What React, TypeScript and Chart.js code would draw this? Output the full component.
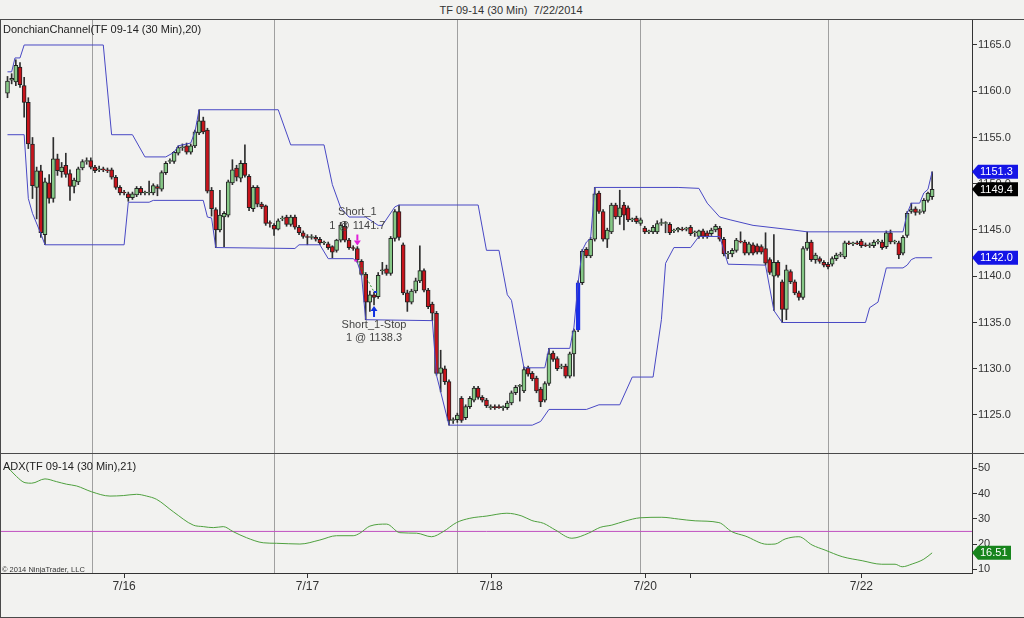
import React, { useEffect, useRef } from 'react';
import { Chart, registerables } from 'chart.js';

Chart.register(...registerables);

// ---------------- DATA ----------------
const opens = [
  1159.8, 1161.2, 1161.0, 1162.6, 1160.6, 1158.8, 1154.3, 1149.6, 1151.4, 1144.5,
  1150.1, 1148.4, 1152.7, 1151.3, 1152.0, 1151.1, 1149.7, 1150.2, 1151.7, 1152.4,
  1152.5, 1151.8, 1151.5, 1151.6, 1151.5, 1151.5, 1150.7, 1149.6, 1149.1, 1148.9,
  1148.5, 1148.8, 1149.5, 1149.0, 1149.0, 1149.0, 1149.7, 1149.4, 1151.2, 1152.4,
  1152.4, 1153.3, 1153.9, 1154.1, 1153.4, 1154.1, 1155.5, 1156.8, 1155.8, 1149.3,
  1147.2, 1145.0, 1146.4, 1146.6, 1150.1, 1151.7, 1150.6, 1152.2, 1150.8, 1147.3,
  1149.6, 1147.8, 1147.6, 1145.8, 1145.5, 1145.1, 1146.2, 1146.4, 1145.6, 1146.4,
  1145.3, 1144.7, 1144.3, 1144.2, 1144.2, 1144.0, 1143.6, 1143.5, 1143.2, 1142.8,
  1143.9, 1145.4, 1143.9, 1143.1, 1143.0, 1141.6, 1140.2, 1137.2, 1138.0, 1137.8,
  1140.6, 1140.8, 1140.3, 1144.1, 1147.0, 1143.4, 1138.2, 1137.2, 1138.4, 1139.5,
  1140.6, 1138.5, 1137.0, 1136.0, 1129.5, 1130.0, 1128.6, 1124.4, 1124.5, 1126.8,
  1124.7, 1125.9, 1126.6, 1127.9, 1126.9, 1126.6, 1125.8, 1125.9, 1125.9, 1125.8,
  1125.8, 1126.3, 1127.4, 1128.1, 1127.6, 1130.1, 1129.5, 1129.0, 1127.8, 1126.6,
  1128.4, 1131.7, 1131.1, 1130.2, 1130.3, 1129.2, 1131.6, 1134.2, 1139.3, 1142.9,
  1142.2, 1144.0, 1149.0, 1147.0, 1144.0, 1144.8, 1147.7, 1146.4, 1147.7, 1147.4,
  1146.1, 1146.3, 1145.7, 1145.2, 1144.8, 1144.8, 1144.8, 1145.7, 1145.7, 1145.6,
  1144.9, 1145.0, 1145.1, 1145.1, 1145.3, 1144.7, 1144.3, 1144.9, 1144.7, 1144.6,
  1145.0, 1145.2, 1144.0, 1142.4, 1142.4, 1142.8, 1143.8, 1143.7, 1142.5, 1143.4,
  1143.3, 1143.2, 1143.0, 1141.8, 1140.0, 1141.5, 1139.4, 1136.4, 1140.5, 1139.4,
  1138.2, 1137.7, 1143.0, 1143.7, 1141.8, 1141.9, 1141.5, 1141.3, 1141.3, 1141.9,
  1142.3, 1142.1, 1143.6, 1143.5, 1143.6, 1143.8, 1143.4, 1143.3, 1143.3, 1143.7,
  1143.7, 1143.2, 1144.7, 1143.7, 1143.6, 1142.5, 1144.4, 1147.0, 1147.3, 1146.9,
  1147.0, 1148.2, 1148.6,
];

const highs = [
  1161.6, 1161.9, 1163.4, 1163.1, 1161.5, 1159.3, 1155.0, 1151.8, 1152.0, 1150.6,
  1151.0, 1155.0, 1153.2, 1152.3, 1153.3, 1151.5, 1150.6, 1151.8, 1152.6, 1152.8,
  1152.8, 1152.0, 1151.9, 1151.8, 1151.7, 1151.7, 1150.9, 1149.8, 1149.3, 1149.1,
  1149.1, 1149.7, 1149.7, 1149.2, 1150.3, 1150.0, 1149.9, 1151.4, 1152.4, 1152.7,
  1153.5, 1154.1, 1154.3, 1154.4, 1154.3, 1155.8, 1158.0, 1157.2, 1156.0, 1149.6,
  1147.4, 1149.3, 1147.0, 1150.4, 1152.6, 1152.0, 1152.5, 1154.2, 1151.0, 1149.8,
  1149.8, 1148.0, 1147.7, 1146.0, 1145.7, 1146.2, 1146.5, 1146.6, 1146.6, 1146.6,
  1145.5, 1144.9, 1144.5, 1144.5, 1144.4, 1144.2, 1143.8, 1143.7, 1143.3, 1144.0,
  1145.8, 1145.9, 1144.1, 1143.3, 1143.2, 1141.8, 1140.4, 1138.4, 1138.3, 1140.4,
  1141.5, 1141.2, 1144.3, 1147.2, 1147.7, 1143.6, 1138.5, 1138.6, 1139.8, 1143.3,
  1140.8, 1138.7, 1137.2, 1136.2, 1132.0, 1130.3, 1128.8, 1124.7, 1125.2, 1127.0,
  1126.1, 1127.0, 1128.1, 1128.1, 1127.1, 1126.8, 1126.1, 1126.1, 1126.1, 1126.0,
  1126.5, 1127.6, 1128.2, 1128.3, 1130.2, 1130.3, 1129.7, 1129.2, 1128.0, 1128.6,
  1132.2, 1131.9, 1131.3, 1130.5, 1130.5, 1131.8, 1134.3, 1139.5, 1142.9, 1143.1,
  1144.2, 1149.6, 1149.2, 1147.2, 1145.2, 1147.9, 1147.9, 1149.3, 1148.0, 1147.6,
  1146.3, 1146.5, 1146.3, 1145.4, 1145.0, 1145.5, 1146.0, 1146.2, 1145.9, 1145.8,
  1145.1, 1145.3, 1145.3, 1145.3, 1145.5, 1144.9, 1145.0, 1145.1, 1144.9, 1145.2,
  1145.6, 1145.4, 1144.2, 1142.7, 1143.0, 1144.1, 1144.8, 1143.9, 1143.7, 1143.6,
  1143.5, 1143.4, 1144.7, 1142.0, 1144.5, 1141.7, 1139.6, 1141.2, 1140.7, 1139.6,
  1138.4, 1143.2, 1144.8, 1143.9, 1142.5, 1142.1, 1141.7, 1141.5, 1142.1, 1142.5,
  1142.6, 1143.8, 1143.8, 1143.7, 1143.8, 1144.0, 1143.6, 1143.6, 1143.9, 1144.0,
  1143.9, 1144.9, 1145.0, 1143.9, 1143.8, 1144.4, 1147.0, 1147.9, 1147.5, 1147.2,
  1148.4, 1149.1, 1151.3,
];

const lows = [
  1159.3, 1160.8, 1160.6, 1160.4, 1157.2, 1153.8, 1148.4, 1146.2, 1144.2, 1143.4,
  1147.9, 1148.0, 1150.9, 1150.7, 1150.7, 1148.2, 1149.0, 1149.9, 1151.5, 1152.1,
  1151.6, 1151.2, 1151.3, 1151.3, 1151.2, 1150.5, 1149.4, 1148.8, 1148.8, 1148.1,
  1148.3, 1148.6, 1148.8, 1148.8, 1148.8, 1148.8, 1148.7, 1149.2, 1151.0, 1152.2,
  1152.2, 1153.1, 1153.6, 1153.2, 1153.2, 1153.9, 1155.3, 1155.4, 1149.0, 1146.5,
  1143.1, 1144.8, 1143.2, 1146.4, 1149.9, 1150.3, 1150.2, 1150.7, 1147.1, 1147.0,
  1147.5, 1147.3, 1145.5, 1145.3, 1144.4, 1145.0, 1146.0, 1145.4, 1145.4, 1145.1,
  1144.5, 1144.1, 1143.4, 1144.0, 1143.8, 1143.4, 1143.4, 1142.9, 1142.0, 1142.6,
  1143.7, 1143.7, 1142.9, 1142.8, 1141.5, 1140.1, 1135.3, 1136.2, 1136.9, 1137.6,
  1140.2, 1140.1, 1140.1, 1143.8, 1143.9, 1138.0, 1136.2, 1137.0, 1138.2, 1139.3,
  1138.3, 1136.5, 1135.2, 1129.3, 1127.5, 1128.3, 1123.9, 1124.1, 1124.2, 1124.2,
  1124.5, 1125.7, 1126.4, 1126.7, 1126.4, 1125.8, 1125.6, 1125.6, 1125.7, 1125.5,
  1125.6, 1126.1, 1127.2, 1126.5, 1127.4, 1129.2, 1128.7, 1127.4, 1125.9, 1126.4,
  1128.2, 1130.8, 1129.8, 1130.0, 1129.0, 1129.0, 1129.2, 1134.0, 1139.1, 1142.0,
  1142.0, 1143.8, 1146.8, 1143.8, 1143.1, 1144.6, 1146.2, 1145.6, 1145.0, 1145.9,
  1145.9, 1145.7, 1145.5, 1144.6, 1144.6, 1144.6, 1144.6, 1145.5, 1144.7, 1144.5,
  1144.7, 1144.8, 1144.9, 1144.9, 1144.4, 1144.3, 1144.1, 1144.1, 1144.1, 1144.4,
  1144.8, 1143.8, 1142.2, 1141.9, 1142.1, 1142.6, 1143.6, 1142.3, 1142.3, 1142.3,
  1142.4, 1142.4, 1141.2, 1140.2, 1136.3, 1139.9, 1135.0, 1135.3, 1139.2, 1138.0,
  1137.4, 1137.5, 1142.8, 1141.6, 1141.4, 1141.4, 1141.0, 1140.8, 1141.1, 1141.7,
  1142.1, 1141.9, 1143.4, 1143.3, 1143.4, 1143.1, 1143.2, 1143.1, 1143.1, 1143.5,
  1142.9, 1143.0, 1143.5, 1143.5, 1141.9, 1142.3, 1144.2, 1146.8, 1146.6, 1146.7,
  1146.8, 1148.0, 1148.3,
];

const closes = [
  1161.1, 1161.4, 1162.8, 1160.7, 1158.8, 1154.3, 1149.8, 1151.4, 1144.7, 1150.2,
  1148.4, 1152.7, 1151.4, 1151.8, 1151.0, 1149.7, 1150.4, 1151.6, 1152.4, 1152.5,
  1151.8, 1151.4, 1151.6, 1151.5, 1151.4, 1150.7, 1149.6, 1149.0, 1149.0, 1148.5,
  1148.9, 1149.5, 1149.0, 1149.1, 1149.1, 1149.8, 1149.5, 1151.2, 1152.2, 1152.5,
  1153.4, 1153.9, 1154.0, 1153.4, 1154.1, 1155.6, 1156.8, 1155.6, 1149.2, 1147.3,
  1145.0, 1146.6, 1146.8, 1150.2, 1151.5, 1150.7, 1152.2, 1150.9, 1147.4, 1149.6,
  1147.8, 1147.5, 1145.7, 1145.7, 1145.1, 1146.0, 1146.3, 1145.6, 1146.4, 1145.3,
  1144.7, 1144.3, 1144.2, 1144.3, 1144.0, 1143.6, 1143.7, 1143.1, 1142.6, 1143.9,
  1145.5, 1143.9, 1143.1, 1143.0, 1141.8, 1140.2, 1137.2, 1138.0, 1137.7, 1140.1,
  1140.7, 1140.3, 1144.1, 1147.0, 1144.2, 1138.2, 1137.2, 1138.4, 1139.5, 1140.6,
  1138.5, 1136.7, 1136.0, 1129.5, 1130.1, 1128.6, 1124.4, 1124.5, 1125.0, 1124.4,
  1125.9, 1126.8, 1127.9, 1126.9, 1126.6, 1126.0, 1125.9, 1125.8, 1125.8, 1125.9,
  1126.3, 1127.4, 1128.0, 1128.2, 1129.9, 1129.4, 1128.9, 1127.6, 1126.4, 1128.4,
  1131.6, 1131.0, 1130.0, 1130.3, 1129.2, 1131.6, 1134.1, 1139.3, 1142.7, 1142.2,
  1144.0, 1148.9, 1147.0, 1144.0, 1145.0, 1147.7, 1146.4, 1147.4, 1146.6, 1146.1,
  1146.2, 1145.9, 1146.1, 1144.8, 1144.9, 1145.3, 1145.7, 1145.8, 1145.8, 1144.7,
  1145.0, 1145.2, 1145.0, 1145.2, 1144.6, 1144.8, 1144.9, 1144.3, 1144.3, 1145.0,
  1145.4, 1144.0, 1142.4, 1142.5, 1142.8, 1143.9, 1143.7, 1142.5, 1143.5, 1142.5,
  1142.6, 1142.6, 1141.4, 1140.4, 1141.5, 1140.1, 1136.4, 1140.7, 1139.4, 1138.2,
  1137.7, 1143.0, 1143.7, 1141.8, 1142.3, 1141.6, 1141.2, 1141.0, 1141.9, 1142.3,
  1142.4, 1143.6, 1143.5, 1143.6, 1143.5, 1143.3, 1143.3, 1143.4, 1143.7, 1143.8,
  1143.1, 1144.7, 1143.7, 1143.8, 1142.3, 1144.2, 1146.8, 1147.2, 1146.9, 1147.0,
  1148.2, 1149.0, 1149.4,
];

// bars painted blue by the strategy
const paintedBars = [137];

// Donchian channel vertices [bar index, price]
const donchianUpper: [number, number][] = [
  [0, 1162.1], [1, 1162.1], [1.8, 1163.6], [3, 1163.6], [4, 1165.0], [23, 1165.0], [25, 1155.3],
  [30, 1155.3], [33, 1152.9], [38, 1152.9], [40, 1153.4], [41, 1154.1], [43, 1154.3], [44, 1154.4],
  [45, 1155.6], [46, 1158.0], [65, 1158.0], [68, 1154.2], [76, 1154.2], [78, 1149.9], [80, 1147.4],
  [82, 1146.4], [86, 1146.4], [89, 1145.5], [90, 1145.5], [93, 1147.5], [94, 1147.7], [113, 1147.7],
  [115, 1142.8], [118, 1142.8], [120, 1138.0], [121, 1137.4], [124, 1130.1], [129, 1130.1],
  [130, 1132.2], [135, 1132.2], [136, 1134.5], [137, 1139.3], [138, 1142.8], [139, 1143.7],
  [140, 1144.1], [141, 1149.6], [161, 1149.6], [166, 1149.5], [168, 1147.9], [171, 1146.4],
  [173.5, 1146.1], [179, 1145.5], [188.6, 1145.0], [192, 1144.8], [215, 1144.8], [216, 1146.8],
  [217, 1147.9], [219, 1147.9], [220, 1149.0], [221, 1149.4], [222, 1151.3],
];

const donchianLower: [number, number][] = [
  [0, 1155.3], [4, 1155.3], [5, 1148.4], [6, 1146.8], [8, 1144.6], [9, 1143.4], [28, 1143.4],
  [29, 1148.0], [34, 1148.0], [35, 1148.2], [47, 1148.2], [48, 1146.4], [49, 1146.3], [50, 1143.1],
  [69, 1143.0], [70, 1143.4], [75, 1143.4], [77, 1141.9], [83, 1141.9], [84, 1141.5], [85, 1140.1],
  [86, 1135.3], [102, 1135.2], [103, 1129.3], [104, 1127.5], [106, 1123.9], [126, 1123.9],
  [128, 1124.3], [130, 1125.6], [139, 1125.6], [142, 1126.1], [147, 1126.1], [150, 1129.1],
  [155, 1129.1], [157, 1135.3], [158, 1141.4], [160, 1143.1], [164, 1143.1], [166, 1144.3],
  [171, 1144.3], [173, 1141.3], [182, 1141.2], [184, 1136.3], [186, 1135.0], [206, 1135.0],
  [207, 1136.6], [209, 1137.2], [211, 1140.9], [215, 1140.9], [216, 1141.2], [217, 1141.8],
  [218, 1142.0], [222, 1142.0],
];

// ADX(21) [bar index, value]
const adxPoints: [number, number][] = [
  [0, 50.5], [2.2, 46.7], [4.2, 44.3], [5.8, 44.1], [9, 45.8], [11.8, 44.7], [14.2, 43.7],
  [16.6, 43.0], [20.2, 40.7], [24.6, 39.0], [27.8, 39.2], [31, 39.7], [33.4, 39.0], [35.8, 37.7],
  [39.8, 32.8], [44.6, 27.5], [47, 26.9], [49.4, 26.5], [51.8, 26.9], [54.2, 24.9], [57.4, 22.5],
  [61.4, 20.5], [64.6, 20.3], [70.2, 20.0], [75, 21.6], [79, 23.3], [83, 23.3], [84.6, 24.3],
  [87, 27.1], [91, 27.9], [94.2, 24.5], [98.2, 24.3], [101.8, 22.9], [104.6, 24.9], [107.8, 28.5],
  [111, 30.2], [115.1, 31.1], [119.9, 32.2], [123.5, 31.1], [125.9, 29.3], [128.7, 28.2],
  [131.5, 25.6], [135.5, 22.3], [139.5, 24.3], [142.3, 26.6], [145.1, 27.5], [148.3, 29.1],
  [151.9, 30.4], [157.1, 30.6], [161.1, 29.9], [165.1, 29.2], [170.8, 28.5], [173.9, 24.9],
  [177.1, 23.2], [182.4, 19.9], [184.3, 20.0], [186.7, 22.0], [190, 22.9], [193.2, 19.6],
  [196.3, 17.6], [200.4, 15.0], [205.2, 13.4], [209.9, 12.0], [213.1, 12.0], [214.8, 11.0],
  [217.2, 12.1], [220, 14.0], [222, 16.51],
];
const adxLevel = 25;

// trades
const tradeBars = [84, 88];
const tradePrices = [1141.7, 1138.3];
const tradeNames = ['Short_1', 'Short_1-Stop'];
const tradeQty = [1, 1];

// axes
const priceTicks = [1125, 1130, 1135, 1140, 1145, 1150, 1155, 1160, 1165];
const adxTicks = [10, 20, 30, 40, 50];
const sessionBreaks = [20.3, 64.1, 108.0, 152.0, 197.0];
const dateTickPos = [28.0, 72.0, 116.1, 153.1, 163.9, 205.0];
const dateTickLabels = ['7/16', '7/17', '7/18', '7/20', '', '7/22'];

// ---------------- STYLE ----------------
const FONT = "'Liberation Sans', Arial, sans-serif";
const BG = '#f2f2f0';
const X_MIN = -1.56;
const X_MAX = 231.57;
const PRICE_MIN = 1120.89;
const PRICE_MAX = 1167.81;
const ADX_MIN = 8.53;
const ADX_MAX = 56.06;
const UP_FILL = '#86c886';
const DOWN_FILL = '#c8141c';
const PAINT = '#1a2ee8';
const OUTLINE = '#222222';
const WICK = '#2e2e2e';
const DONCHIAN = '#4848c4';
const ADX_COLOR = '#4ea03e';
const LEVEL_COLOR = '#c050c0';
const SEP_COLOR = '#a0a0a0';
const AXIS_COLOR = '#333333';

function drawTag(ctx: CanvasRenderingContext2D, left: number, y: number, text: string, bg: string, width: number) {
  const h = 14;
  const tip = 6;
  ctx.beginPath();
  ctx.moveTo(left, y);
  ctx.lineTo(left + tip, y - h / 2);
  ctx.lineTo(left + width, y - h / 2);
  ctx.lineTo(left + width, y + h / 2);
  ctx.lineTo(left + tip, y + h / 2);
  ctx.closePath();
  ctx.fillStyle = bg;
  ctx.fill();
  ctx.fillStyle = '#ffffff';
  ctx.font = `11px ${FONT}`;
  ctx.textAlign = 'left';
  ctx.textBaseline = 'middle';
  ctx.fillText(text, left + tip + 2, y + 0.5);
}

const pricePlugin = {
  id: 'priceExtras',
  afterDatasetsDraw(chart: any) {
    const { ctx, scales } = chart;
    const x = scales.x;
    const y = scales.y;
    ctx.save();
    // entry
    const ex = x.getPixelForValue(tradeBars[0]);
    const ey = y.getPixelForValue(tradePrices[0]);
    const sx = x.getPixelForValue(tradeBars[1]);
    const sy = y.getPixelForValue(tradePrices[1]);
    ctx.fillStyle = '#444444';
    ctx.font = `11px ${FONT}`;
    ctx.textAlign = 'center';
    ctx.textBaseline = 'middle';
    ctx.fillText(tradeNames[0], ex, ey - 48.5);
    ctx.fillText(`${tradeQty[0]} @ ${tradePrices[0].toFixed(1)}`, ex, ey - 35);
    ctx.fillText(tradeNames[1], sx, sy + 33.5);
    ctx.fillText(`${tradeQty[1]} @ ${tradePrices[1].toFixed(1)}`, sx, sy + 46.5);
    // magenta down arrow
    ctx.fillStyle = '#e020d8';
    ctx.fillRect(ex - 1, ey - 26, 2, 6);
    ctx.beginPath();
    ctx.moveTo(ex - 3.5, ey - 20);
    ctx.lineTo(ex + 3.5, ey - 20);
    ctx.lineTo(ex, ey - 15);
    ctx.closePath();
    ctx.fill();
    ctx.fillRect(ex - 3, ey - 1, 3, 2);
    // blue up arrow
    ctx.fillStyle = '#1030e0';
    ctx.beginPath();
    ctx.moveTo(sx - 3.5, sy + 19);
    ctx.lineTo(sx + 3.5, sy + 19);
    ctx.lineTo(sx, sy + 14);
    ctx.closePath();
    ctx.fill();
    ctx.fillRect(sx - 1, sy + 19, 2, 6);
    ctx.fillRect(sx, sy - 1, 3, 2);
    ctx.restore();
  },
  afterDraw(chart: any) {
    const { ctx, scales, chartArea } = chart;
    const y = scales.y;
    const n = closes.length;
    ctx.save();
    drawTag(ctx, chartArea.right, y.getPixelForValue(donchianUpper[donchianUpper.length - 1][1]),
      donchianUpper[donchianUpper.length - 1][1].toFixed(1), '#1414e6', 46);
    drawTag(ctx, chartArea.right, y.getPixelForValue(closes[n - 1]), closes[n - 1].toFixed(1), '#000000', 46);
    drawTag(ctx, chartArea.right, y.getPixelForValue(donchianLower[donchianLower.length - 1][1]),
      donchianLower[donchianLower.length - 1][1].toFixed(1), '#1414e6', 46);
    ctx.restore();
  },
};

const adxPlugin = {
  id: 'adxExtras',
  afterDraw(chart: any) {
    const { ctx, scales, chartArea } = chart;
    const last = adxPoints[adxPoints.length - 1][1];
    ctx.save();
    drawTag(ctx, chartArea.right, scales.y.getPixelForValue(last), last.toFixed(2), '#17841c', 39);
    ctx.restore();
  },
};

function sepAxis(position: string) {
  return {
    type: 'linear',
    position,
    min: X_MIN,
    max: X_MAX,
    offset: false,
    afterBuildTicks: (s: any) => {
      s.ticks = sessionBreaks.map((v) => ({ value: v }));
    },
    ticks: { display: false },
    grid: { color: SEP_COLOR, lineWidth: 1, drawTicks: false, offset: false },
    border: { display: false },
    afterFit: (s: any) => {
      s.height = 0;
      s.paddingLeft = 0;
      s.paddingRight = 0;
    },
  };
}

function priceConfig(): any {
  const idx = opens.map((_, i) => i);
  const fills = idx.map((i) =>
    paintedBars.includes(i) ? PAINT : closes[i] >= opens[i] ? UP_FILL : DOWN_FILL
  );
  const borders = idx.map((i) => (paintedBars.includes(i) ? PAINT : OUTLINE));
  return {
    type: 'bar',
    data: {
      datasets: [
        {
          type: 'bar',
          data: idx.map((i) => ({ x: i, y: [lows[i], highs[i]] })),
          backgroundColor: WICK,
          borderWidth: 0,
          barThickness: 1,
          grouped: false,
          order: 4,
        },
        {
          type: 'bar',
          data: idx.map((i) => ({ x: i, y: [opens[i], closes[i]] })),
          backgroundColor: fills,
          borderColor: borders,
          borderWidth: 1,
          borderSkipped: false,
          barThickness: 4,
          grouped: false,
          order: 3,
        },
        {
          type: 'line',
          data: donchianUpper.map(([x, y]) => ({ x, y })),
          borderColor: DONCHIAN,
          borderWidth: 1,
          pointRadius: 0,
          tension: 0,
          order: 2,
        },
        {
          type: 'line',
          data: donchianLower.map(([x, y]) => ({ x, y })),
          borderColor: DONCHIAN,
          borderWidth: 1,
          pointRadius: 0,
          tension: 0,
          order: 2,
        },
        {
          type: 'line',
          data: tradeBars.map((b, k) => ({ x: b, y: tradePrices[k] })),
          borderColor: '#2e8f2e',
          borderWidth: 1,
          borderDash: [2, 2],
          pointRadius: 0,
          order: 1,
        },
      ],
    },
    options: {
      responsive: false,
      animation: false,
      devicePixelRatio: 1,
      layout: { padding: { left: 1, right: 0, top: 0, bottom: 0 } },
      plugins: { legend: { display: false }, tooltip: { enabled: false } },
      events: [],
      scales: {
        x: sepAxis('bottom'),
        y: {
          type: 'linear',
          position: 'right',
          min: PRICE_MIN,
          max: PRICE_MAX,
          afterBuildTicks: (s: any) => {
            s.ticks = priceTicks.map((v) => ({ value: v }));
          },
          ticks: {
            callback: (v: any) => Number(v).toFixed(1),
            color: AXIS_COLOR,
            font: { family: FONT, size: 11 },
            padding: 1,
          },
          grid: { drawOnChartArea: false, drawTicks: true, tickLength: 5, tickColor: AXIS_COLOR },
          border: { display: true, color: AXIS_COLOR },
          afterFit: (s: any) => {
            s.width = 52;
            s.paddingTop = 0;
            s.paddingBottom = 0;
          },
        },
      },
    },
    plugins: [pricePlugin],
  };
}

function adxConfig(): any {
  return {
    type: 'line',
    data: {
      datasets: [
        {
          data: adxPoints.map(([x, y]) => ({ x, y })),
          borderColor: ADX_COLOR,
          borderWidth: 1,
          pointRadius: 0,
          cubicInterpolationMode: 'monotone',
          order: 1,
        },
        {
          data: [
            { x: X_MIN, y: adxLevel },
            { x: X_MAX, y: adxLevel },
          ],
          borderColor: LEVEL_COLOR,
          borderWidth: 1,
          pointRadius: 0,
          order: 2,
        },
      ],
    },
    options: {
      responsive: false,
      animation: false,
      devicePixelRatio: 1,
      layout: { padding: { left: 1, right: 0, top: 0, bottom: 0 } },
      plugins: { legend: { display: false }, tooltip: { enabled: false } },
      events: [],
      scales: {
        x: {
          type: 'linear',
          position: 'bottom',
          min: X_MIN,
          max: X_MAX,
          offset: false,
          afterBuildTicks: (s: any) => {
            s.ticks = dateTickPos.map((v) => ({ value: v }));
          },
          ticks: {
            callback: (_v: any, i: number) => dateTickLabels[i],
            color: AXIS_COLOR,
            font: { family: FONT, size: 12 },
            padding: 1,
            autoSkip: false,
            maxRotation: 0,
            minRotation: 0,
          },
          grid: { drawOnChartArea: false, drawTicks: true, tickLength: 5, tickColor: AXIS_COLOR, offset: false },
          border: { display: true, color: AXIS_COLOR },
          afterFit: (s: any) => {
            s.height = 45;
            s.paddingLeft = 0;
            s.paddingRight = 0;
          },
        },
        xsep: sepAxis('top'),
        y: {
          type: 'linear',
          position: 'right',
          min: ADX_MIN,
          max: ADX_MAX,
          afterBuildTicks: (s: any) => {
            s.ticks = adxTicks.map((v) => ({ value: v }));
          },
          ticks: {
            callback: (v: any) => String(v),
            color: AXIS_COLOR,
            font: { family: FONT, size: 11 },
            padding: 1,
          },
          grid: { drawOnChartArea: false, drawTicks: true, tickLength: 5, tickColor: AXIS_COLOR },
          border: { display: true, color: AXIS_COLOR },
          afterFit: (s: any) => {
            s.width = 52;
            s.paddingTop = 0;
            s.paddingBottom = 0;
          },
        },
      },
    },
    plugins: [adxPlugin],
  };
}

const line = (left: number, top: number, width: number, height: number) => (
  <div style={{ position: 'absolute', left, top, width, height, background: '#4a4a4a' }} />
);

export default function App() {
  const priceRef = useRef<HTMLCanvasElement>(null);
  const adxRef = useRef<HTMLCanvasElement>(null);

  useEffect(() => {
    const c1 = new Chart(priceRef.current as HTMLCanvasElement, priceConfig());
    const c2 = new Chart(adxRef.current as HTMLCanvasElement, adxConfig());
    return () => {
      c1.destroy();
      c2.destroy();
    };
  }, []);

  return (
    <div
      style={{
        position: 'absolute',
        left: 0,
        top: 0,
        width: 1024,
        height: 618,
        background: BG,
        overflow: 'hidden',
        fontFamily: FONT,
        color: '#333',
      }}
    >
      <div
        style={{
          position: 'absolute',
          left: 0,
          top: 3,
          width: 1022,
          textAlign: 'center',
          fontSize: 11,
          lineHeight: '14px',
          whiteSpace: 'pre',
        }}
      >
        {'TF 09-14 (30 Min)  7/22/2014'}
      </div>
      <canvas
        ref={priceRef}
        width={1024}
        height={434}
        style={{ position: 'absolute', left: 0, top: 19, width: 1024, height: 434 }}
      />
      <canvas
        ref={adxRef}
        width={1024}
        height={165}
        style={{ position: 'absolute', left: 0, top: 453, width: 1024, height: 165 }}
      />
      {line(0, 19, 1024, 1)}
      {line(0, 453, 1024, 1)}
      {line(0, 617, 1024, 1)}
      {line(0, 19, 1, 599)}
      <div style={{ position: 'absolute', left: 3, top: 22, fontSize: 11, lineHeight: '14px', color: '#222' }}>
        DonchianChannel(TF 09-14 (30 Min),20)
      </div>
      <div style={{ position: 'absolute', left: 3, top: 459, fontSize: 11, lineHeight: '14px', color: '#222' }}>
        ADX(TF 09-14 (30 Min),21)
      </div>
      <div style={{ position: 'absolute', left: 2, top: 565, fontSize: 7.5, lineHeight: '9px', color: '#333' }}>
        © 2014 NinjaTrader, LLC
      </div>
    </div>
  );
}
